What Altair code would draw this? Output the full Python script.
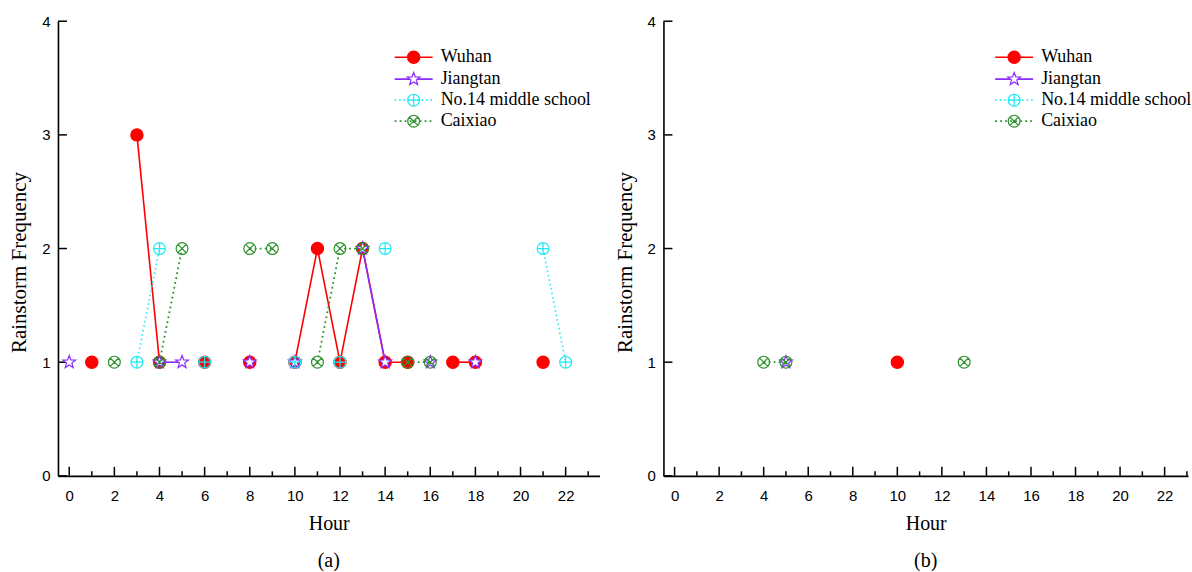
import math
import altair as alt
import pandas as pd

# ---------------- data ----------------
SERIES = ["Wuhan", "Jiangtan", "No.14 middle school", "Caixiao"]

# panel (a)
a_wuhan_hours = [1, 3, 4, 6, 8, 10, 11, 12, 13, 14, 15, 17, 18, 21]
a_wuhan_freq = [1, 3, 1, 1, 1, 1, 2, 1, 2, 1, 1, 1, 1, 1]
a_jiangtan_hours = [0, 4, 5, 8, 10, 13, 14, 16, 18]
a_jiangtan_freq = [1, 1, 1, 1, 1, 2, 1, 1, 1]
a_no14_hours = [3, 4, 6, 10, 12, 14, 21, 22]
a_no14_freq = [1, 2, 1, 1, 1, 2, 2, 1]
a_caixiao_hours = [2, 4, 5, 8, 9, 11, 12, 13, 15, 16]
a_caixiao_freq = [1, 1, 2, 2, 2, 1, 2, 2, 1, 1]

# panel (b)
b_wuhan_hours = [10]
b_wuhan_freq = [1]
b_jiangtan_hours = [5]
b_jiangtan_freq = [1]
b_no14_hours = []
b_no14_freq = []
b_caixiao_hours = [4, 5, 13]
b_caixiao_freq = [1, 1, 1]

X_LABELS = [0, 2, 4, 6, 8, 10, 12, 14, 16, 18, 20, 22]
X_MINOR = [1, 3, 5, 7, 9, 11, 13, 15, 17, 19, 21, 23]
Y_LABELS = [0, 1, 2, 3, 4]

# ---------------- styles ----------------
SERIF = "Liberation Serif"
SANS = "Liberation Sans"
H = 455

def star_path(inner=0.42):
    pts = []
    for k in range(10):
        ang = math.radians(-90 + 36 * k)
        r = 1.0 if k % 2 == 0 else inner
        pts.append(f"{r * math.cos(ang):.3f},{r * math.sin(ang):.3f}")
    return "M" + "L".join(pts) + "Z"

CIRCLE = "M-1,0A1,1 0 1,0 1,0A1,1 0 1,0 -1,0Z"
CIRCLE_PLUS = CIRCLE + "M-1,0L1,0M0,-1L0,1"
CIRCLE_X = CIRCLE + "M-0.707,-0.707L0.707,0.707M-0.707,0.707L0.707,-0.707"

STYLE = {
    "Wuhan": dict(color="#FF0000", width=1.6, dash=None, shape="circle",
                  fill="#FF0000", size=150),
    "Jiangtan": dict(color="#8A2BFF", width=1.6, dash=None, shape=star_path(),
                     fill="white", size=180),
    "No.14 middle school": dict(color="#1CEAF5", width=1.6, dash=[1.5, 3],
                                shape=CIRCLE_PLUS, fill="transparent", size=140),
    "Caixiao": dict(color="#2E922E", width=1.8, dash=[1.8, 3.2],
                    shape=CIRCLE_X, fill="transparent", size=140),
}


def frame(hours, freq):
    rows, seg = [], 0
    for i, (h, f) in enumerate(zip(hours, freq)):
        if i > 0 and h - hours[i - 1] != 1:
            seg += 1
        rows.append({"hour": h, "freq": f, "seg": seg})
    return pd.DataFrame(rows)


def panel(series_data, width, xmax, label, leg_dx):
    xs = alt.Scale(domain=[-0.5, xmax], nice=False, zero=False)
    ys = alt.Scale(domain=[0, 4], nice=False, zero=False)
    xaxis = alt.Axis(values=X_LABELS, title="Hour", ticks=False, grid=False,
                     labelFont=SANS, labelFontSize=15, labelPadding=13,
                     labelColor="black", labelFlush=False, format="d",
                     titleFont=SERIF, titleFontSize=20, titleFontWeight="normal",
                     titleColor="black", titlePadding=10,
                     domainColor="black", domainWidth=1.6)
    yaxis = alt.Axis(values=Y_LABELS, title="Rainstorm Frequency", ticks=False,
                     grid=False, labelFont=SANS, labelFontSize=15, labelPadding=8,
                     labelColor="black", labelFlush=False, format="d",
                     titleFont=SERIF, titleFontSize=21, titleFontWeight="normal",
                     titleColor="black", titleX=-28, titleY=241,
                     domainColor="black", domainWidth=1.6)

    def X(f):
        return alt.X(f, type="quantitative", scale=xs, axis=xaxis)

    def Y(f):
        return alt.Y(f, type="quantitative", scale=ys, axis=yaxis)

    layers = []
    # inward ticks
    layers.append(alt.Chart(pd.DataFrame({"t": X_LABELS})).mark_rule(
        color="black", strokeWidth=1.5).encode(
        x=X("t"), y=alt.value(H), y2=alt.value(H - 9)))
    layers.append(alt.Chart(pd.DataFrame({"t": X_MINOR})).mark_rule(
        color="black", strokeWidth=1.5).encode(
        x=X("t"), y=alt.value(H), y2=alt.value(H - 4.5)))
    layers.append(alt.Chart(pd.DataFrame({"t": Y_LABELS})).mark_rule(
        color="black", strokeWidth=1.5).encode(
        y=Y("t"), x=alt.value(0), x2=alt.value(9)))

    for name in SERIES:
        hours, freq = series_data[name]
        if not hours:
            continue
        st = STYLE[name]
        df = frame(hours, freq)
        line_kw = dict(color=st["color"], strokeWidth=st["width"])
        if st["dash"]:
            line_kw["strokeDash"] = st["dash"]
        layers.append(alt.Chart(df).mark_line(**line_kw).encode(
            x=X("hour"), y=Y("freq"), detail="seg:N"))
        layers.append(alt.Chart(df).mark_point(
            shape=st["shape"], size=st["size"], filled=False, fill=st["fill"],
            fillOpacity=1, stroke=st["color"], strokeWidth=1.2, opacity=1).encode(
            x=X("hour"), y=Y("freq")))

    # legend
    leg_y = [36, 58, 79, 100]
    for name, ly in zip(SERIES, leg_y):
        st = STYLE[name]
        ldf = pd.DataFrame({"name": [name]})
        line_kw = dict(color=st["color"], strokeWidth=st["width"])
        if st["dash"]:
            line_kw["strokeDash"] = st["dash"]
        layers.append(alt.Chart(ldf).mark_rule(**line_kw).encode(
            x=alt.value(337 + leg_dx), x2=alt.value(375 + leg_dx), y=alt.value(ly)))
        layers.append(alt.Chart(ldf).mark_point(
            shape=st["shape"], size=st["size"], filled=False, fill=st["fill"],
            fillOpacity=1, stroke=st["color"], strokeWidth=1.2, opacity=1).encode(
            x=alt.value(356 + leg_dx), y=alt.value(ly)))
        layers.append(alt.Chart(ldf).mark_text(
            align="left", baseline="middle", font=SERIF, fontSize=18,
            color="black").encode(
            x=alt.value(383 + leg_dx), y=alt.value(ly), text="name:N"))

    return alt.layer(*layers).properties(
        width=width, height=H,
        title=alt.TitleParams(label, orient="bottom", font=SERIF, fontSize=20,
                              fontWeight="normal", color="black", offset=17,
                              anchor="middle"))


data_a = {
    "Wuhan": (a_wuhan_hours, a_wuhan_freq),
    "Jiangtan": (a_jiangtan_hours, a_jiangtan_freq),
    "No.14 middle school": (a_no14_hours, a_no14_freq),
    "Caixiao": (a_caixiao_hours, a_caixiao_freq),
}
data_b = {
    "Wuhan": (b_wuhan_hours, b_wuhan_freq),
    "Jiangtan": (b_jiangtan_hours, b_jiangtan_freq),
    "No.14 middle school": (b_no14_hours, b_no14_freq),
    "Caixiao": (b_caixiao_hours, b_caixiao_freq),
}

left = panel(data_a, 542, 23.5, "(a)", 0)
right = panel(data_b, 525, 23.05, "(b)", -5)

chart = alt.hconcat(left, right, spacing=15).configure_view(stroke=None).properties(
    padding={"left": 9, "top": 14, "right": 0, "bottom": 0},
    background="white")

chart.save("out.html", embed_options={"renderer": "svg", "actions": False})
